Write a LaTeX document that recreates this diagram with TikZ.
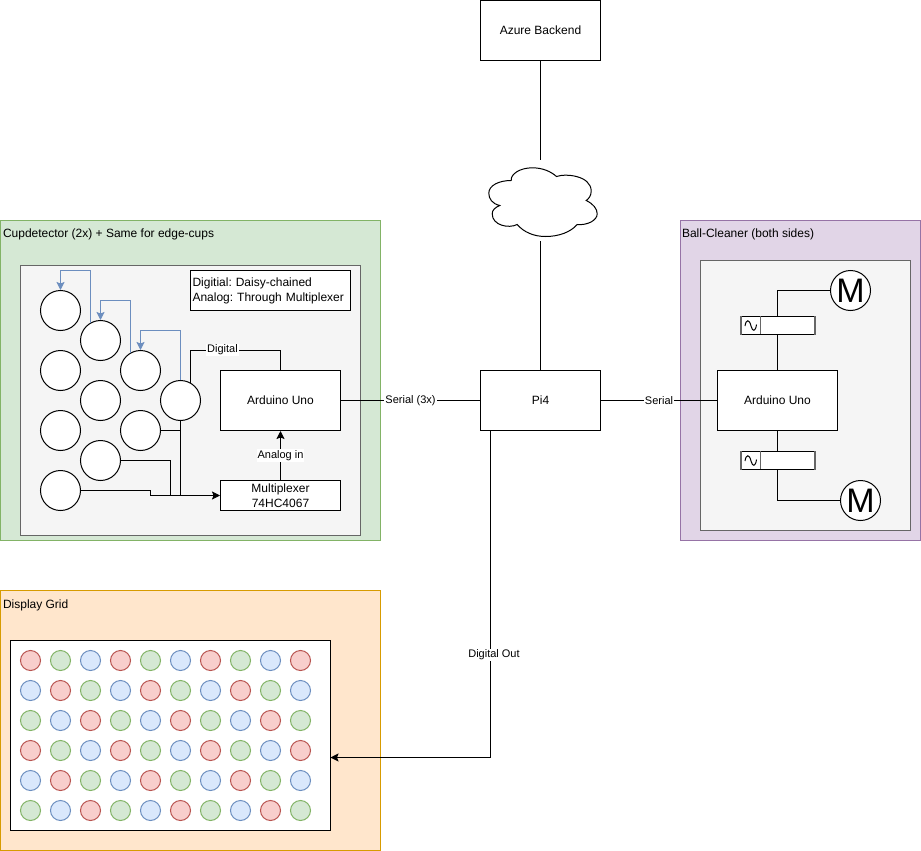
\documentclass[tikz,border=0pt]{standalone}
\usepackage{fontspec}
\setmainfont{Liberation Sans}
\usetikzlibrary{arrows.meta, positioning, calc}

\definecolor{grnfill}{HTML}{D5E8D4}
\definecolor{grnline}{HTML}{82B366}
\definecolor{redfill}{HTML}{F8CECC}
\definecolor{redline}{HTML}{B85450}
\definecolor{blufill}{HTML}{DAE8FC}
\definecolor{bluline}{HTML}{6C8EBF}
\definecolor{purfill}{HTML}{E1D5E7}
\definecolor{purline}{HTML}{9673A6}
\definecolor{orafill}{HTML}{FFE6CC}
\definecolor{oraline}{HTML}{D79B00}
\definecolor{innfill}{HTML}{F5F5F5}
\definecolor{innline}{HTML}{666666}

\begin{document}
\frenchspacing
\begin{tikzpicture}[
  x=1pt, y=-1pt, line width=1pt,
  font=\fontsize{12}{15}\selectfont,
  group/.style={rectangle, draw=#1line, fill=#1fill, inner sep=0pt},
  inner/.style={rectangle, draw=innline, fill=innfill, inner sep=0pt},
  box/.style={rectangle, draw=black, fill=white, align=center, inner sep=0pt,
              minimum width=120pt, minimum height=60pt},
  cup/.style={circle, draw=black, fill=white, inner sep=0pt, minimum size=40pt},
  motor/.style={cup, font=\fontsize{34}{34}\selectfont},
  led/.style={circle, draw=#1line, fill=#1fill, inner sep=0pt, minimum size=20pt},
  title/.style={anchor=west, inner sep=0pt},
  filt/.style={rectangle, draw=black, fill=white, inner sep=0pt,
               minimum width=73pt, minimum height=18pt},
  tag/.style={fill=white, inner sep=1pt, font=\fontsize{11}{13}\selectfont},
  arr/.style={-{Stealth[length=8pt, width=8pt, inset=1.5pt]}},
]
\useasboundingbox (-0.5,-0.5) rectangle (920.5,850.5);

% ---- Backend and cloud ----
\node[box] (azure) at (540,30) {Azure Backend};
\node[minimum width=120pt, minimum height=80pt, inner sep=0pt] (cloud) at (540,200) {};
\draw (510.7,180) .. controls (510,173.3) and (520,167.3) .. (531.7,167.3)
  .. controls (541.7,167.3) and (550,170.7) .. (556,176)
  .. controls (565,172.7) and (590.7,175) .. (590.7,190.7)
  .. controls (590.7,195) and (588.3,198.3) .. (585.7,200)
  .. controls (592.7,203.3) and (596.7,208.3) .. (596.7,213.3)
  .. controls (596.7,220) and (586.7,225) .. (576.7,224)
  .. controls (570,231.7) and (558.3,236) .. (545,236)
  .. controls (533.3,236) and (523.3,231.7) .. (516.7,224)
  .. controls (508.3,228.3) and (491.7,225) .. (491.7,213.3)
  .. controls (491.7,209.3) and (495,206.7) .. (499.3,205)
  .. controls (491.7,203.3) and (488.3,198.3) .. (488.3,192.7)
  .. controls (488.3,185) and (498.3,180) .. (510.7,180) -- cycle;
\node[box] (pi) at (540,400) {Pi4};

% ---- Cupdetector ----
\node[group=grn, minimum width=380pt, minimum height=320pt] (cupgrp) at (190,380) {};
\node[title] (cuptitle) at (2,233.5) {Cupdetector (2x) + Same for edge-cups};
\node[inner, minimum width=340pt, minimum height=270pt] (cupinn) at (190,400) {};
\node[rectangle, draw=black, fill=white, align=left, inner sep=2pt, text width=156pt,
      minimum height=40pt] (legend) at (270,290) {Digitial: Daisy-chained\\Analog: Through Multiplexer};
\node[cup] (c1) at (60,310) {};
\node[cup] (c2) at (60,370) {};
\node[cup] (c3) at (60,430) {};
\node[cup] (c4) at (60,490) {};
\node[cup] (c5) at (100,340) {};
\node[cup] (c6) at (100,400) {};
\node[cup] (c7) at (100,460) {};
\node[cup] (c8) at (140,370) {};
\node[cup] (c9) at (140,430) {};
\node[cup] (c10) at (180,400) {};
\node[box] (unoL) at (280,400) {Arduino Uno};
\node[box, minimum height=30pt] (mux) at (280,495) {Multiplexer\\74HC4067};

\draw[arr, draw=bluline] (c5.120) |- (60,270) -- (c1.north);
\draw[arr, draw=bluline] (c8.120) |- (100,300) -- (c5.north);
\draw[arr, draw=bluline] (c10.north) |- (140,330) -- (c8.north);
\draw (c10.60) |- (280,350) -- (unoL.north);
\node[tag] (digi) at (222,349.5) {Digital};
\draw (c9.east) -- (c10 |- c9);
\draw (c7.east) -| (170,495);
\draw[arr] (c10.south) |- (mux.west);
\draw (c4.east) -| (150,495) -- (c10 |- mux);
\draw[arr] (mux.north) -- (unoL.south) node[midway, tag] (anin) {Analog in};

% ---- Ball cleaner ----
\node[group=pur, minimum width=240pt, minimum height=320pt] (ballgrp) at (800,380) {};
\node[title] (balltitle) at (681,233.5) {Ball-Cleaner (both sides)};
\node[inner, minimum width=210pt, minimum height=270pt] (ballinn) at (805,395) {};
\node[box] (unoR) at (777,400) {Arduino Uno};
\node[motor] (m1) at (850,290) {M};
\node[motor] (m2) at (860,500) {M};
\node[filt] (f1) at (777,325) {};
\node[filt] (f2) at (777,460) {};
\foreach \fname in {f1, f2} {
  \draw[draw=innline] (\fname.north west) ++(20,0) -- ++(0,18);
  \draw[draw=innline, line width=2pt] (\fname.north west) -- (\fname.south west);
  \draw[draw=innline, line width=2pt] (\fname.north east) -- (\fname.south east);
  \draw[shift={(\fname.west)}] (4.5,0.5) .. controls (5.5,-6.5) and (9,-6.5) .. (10.5,0.5)
    .. controls (12,6.5) and (15,6.5) .. (16,-1);
}
\draw (m1.west) -| (f1.north);
\draw (f1.south) -- (unoR.north);
\draw (unoR.south) -- (f2.north);
\draw (f2.south) |- (m2.west);

% ---- Display grid ----
\node[group=ora, minimum width=380pt, minimum height=260pt] (dispgrp) at (190,720) {};
\node[title] (disptitle) at (2,604.5) {Display Grid};
\node[rectangle, draw=black, fill=white, inner sep=0pt, minimum width=320pt,
      minimum height=190pt] (grid) at (170,735) {};
\foreach \row in {0,...,5} {
  \foreach \col in {0,...,9} {
    \pgfmathtruncatemacro{\tone}{mod(\col-\row+6,3)}
    \ifcase\tone\def\ledcol{red}\or\def\ledcol{grn}\else\def\ledcol{blu}\fi
    \node[led=\ledcol] (led\row\col) at ({30+30*\col},{660+30*\row}) {};
  }
}

% ---- Links between blocks ----
\draw (azure.south) -- (cloud.north);
\draw (cloud.south) -- (pi.north);
\draw (unoL.east) -- (pi.west) node[pos=.5, tag] (ser3) {Serial (3x)};
\draw (pi.east) -- (unoR.west) node[pos=.5, tag] (ser1) {Serial};
\coordinate (piout) at (490,430);
\coordinate (gridin) at (330,757);
\draw[arr] (piout) |- (gridin);
\node[tag] (dout) at (493.5,654.5) {Digital Out};

\end{tikzpicture}
\end{document}
